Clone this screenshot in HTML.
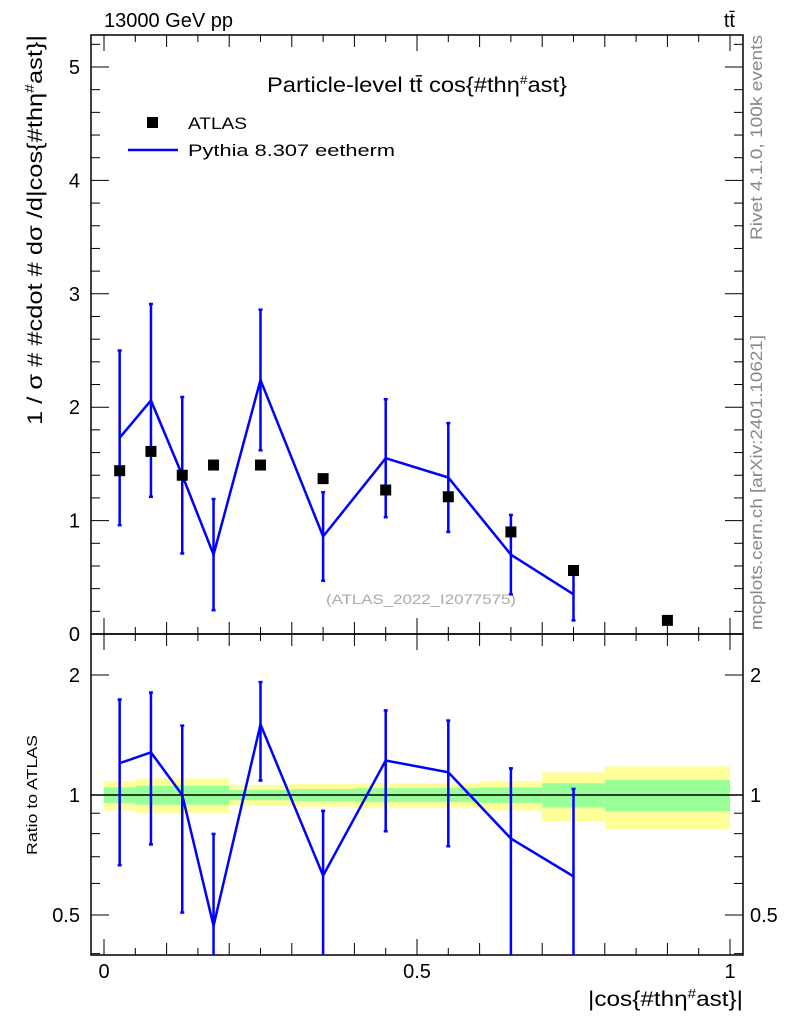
<!DOCTYPE html>
<html><head><meta charset="utf-8"><style>
body{margin:0;background:#fff;}
svg{display:block;font-family:"Liberation Sans",sans-serif;}
</style></head><body>
<svg id="c" width="786" height="1024" xmlns="http://www.w3.org/2000/svg">
<text x="104" y="27" font-size="20">13000 GeV pp</text>
<text x="735" y="27" font-size="20" text-anchor="end">tt̄</text>
<text x="267" y="92" font-size="21" textLength="300" lengthAdjust="spacingAndGlyphs">Particle-level tt̄ cos{#thη<tspan font-size="12" dy="-8">#</tspan><tspan dy="8">ast}</tspan></text>
<rect x="147" y="117" width="11" height="11" fill="#000"/>
<text x="188" y="129" font-size="17" textLength="59" lengthAdjust="spacingAndGlyphs">ATLAS</text>
<line x1="128" y1="150" x2="178" y2="150" stroke="#00f" stroke-width="2.5"/>
<text x="188" y="156" font-size="17" textLength="207" lengthAdjust="spacingAndGlyphs">Pythia 8.307 eetherm</text>
<text x="326" y="604" font-size="14" fill="#aaa" textLength="190" lengthAdjust="spacingAndGlyphs">(ATLAS_2022_I2077575)</text>
<text transform="translate(42,425) rotate(-90)" font-size="21" textLength="390" lengthAdjust="spacingAndGlyphs">1 / σ # #cdot # dσ /d|cos{#thη<tspan font-size="13" dy="-8">#</tspan><tspan dy="8">ast}|</tspan></text>
<text transform="translate(37,855) rotate(-90)" font-size="15" textLength="120" lengthAdjust="spacingAndGlyphs">Ratio to ATLAS</text>
<text x="588" y="1006" font-size="21" textLength="155" lengthAdjust="spacingAndGlyphs">|cos{#thη<tspan font-size="13" dy="-8">#</tspan><tspan dy="8">ast}|</tspan></text>
<text transform="translate(762,240) rotate(-90)" font-size="17" fill="#888" textLength="205" lengthAdjust="spacingAndGlyphs">Rivet 4.1.0,  100k events</text>
<text transform="translate(762,630) rotate(-90)" font-size="17" fill="#888" textLength="295" lengthAdjust="spacingAndGlyphs">mcplots.cern.ch [arXiv:2401.10621]</text>
<g id="g"></g>
</svg>
<script>
const binLo=[0,0.05,0.1,0.15,0.2,0.3,0.4,0.5,0.6,0.7,0.8];
const binHi=[0.05,0.1,0.15,0.2,0.3,0.4,0.5,0.6,0.7,0.8,1.0];
const atlasVals=[1.44,1.61,1.40,1.49,1.49,1.37,1.27,1.21,0.90,0.56,0.12];
const mcVals=[1.73,2.06,1.40,0.70,2.24,0.86,1.55,1.38,0.70,0.35];
const mcErr=[0.77,0.85,0.69,0.49,0.62,0.39,0.52,0.48,0.35,0.23];
const yellowBand=[0.085,0.10,0.10,0.10,0.06,0.065,0.07,0.07,0.085,0.14,0.18];
const greenBand=[0.045,0.055,0.055,0.055,0.03,0.035,0.04,0.04,0.045,0.07,0.09];
const xTicks=[0,0.5,1];
const yTicks=[0,1,2,3,4,5];
const rTicks=[0.5,1,2];

const NS="http://www.w3.org/2000/svg",G=document.getElementById('g');
const L=91,R=743,T=35,MB=634,RB=955;
const X=v=>104+v*626;
const Y=v=>634-v*113.4;
const RY=v=>795-Math.log2(v)*120;
function mk(t,a,name){const e=document.createElementNS(NS,t);for(const k in a)e.setAttribute(k,a[k]);


G.appendChild(e);return e;}
for(let i=0;i<binLo.length;i++){
 mk('rect',{x:X(binLo[i]),y:RY(1+yellowBand[i]),width:X(binHi[i])-X(binLo[i]),height:RY(1-yellowBand[i])-RY(1+yellowBand[i]),fill:'#ffff99'},'yellow-band');
}
for(let i=0;i<binLo.length;i++){
 mk('rect',{x:X(binLo[i]),y:RY(1+greenBand[i]),width:X(binHi[i])-X(binLo[i]),height:RY(1-greenBand[i])-RY(1+greenBand[i]),fill:'#99ff99'},'green-band');
}
mk('line',{x1:L,x2:R,y1:RY(1),y2:RY(1),stroke:'#000','stroke-width':1.5},'ratio-unity-line');
mk('rect',{x:L,y:T,width:R-L,height:MB-T,fill:'none',stroke:'#000','stroke-width':1.5},'main-frame');
mk('rect',{x:L,y:MB,width:R-L,height:RB-MB,fill:'none',stroke:'#000','stroke-width':1.5},'ratio-frame');
for(let k=0;k<=20;k++){const v=k*0.05,x=X(v),len=(k%10==0)?16:(k%2==0?12:7);
 for(const yb of [MB,RB]) mk('line',{x1:x,x2:x,y1:yb,y2:yb-len,stroke:'#000'},'x-tick');
 for(const yt of [T,MB]) mk('line',{x1:x,x2:x,y1:yt,y2:yt+len,stroke:'#000'},'x-tick');
}
xTicks.forEach(v=>{const t=mk('text',{x:X(v),y:978,'font-size':20,'text-anchor':'middle'},'x-tick-label');t.textContent=v;});
for(let k=0;k<=26;k++){const v=k*0.2,y=Y(v),len=(k%5==0)?18:9;
 mk('line',{x1:L,x2:L+len,y1:y,y2:y,stroke:'#000'},'y-tick');
 mk('line',{x1:R,x2:R-len,y1:y,y2:y,stroke:'#000'},'y-tick');}
yTicks.forEach(v=>{const t=mk('text',{x:80,y:Y(v)+7,'font-size':20,'text-anchor':'end'},'y-tick-label');t.textContent=v;});
[0.4,0.5,0.6,0.7,0.8,0.9,1,2].forEach(v=>{const y=RY(v),len=rTicks.includes(v)?18:9;
 mk('line',{x1:L,x2:L+len,y1:y,y2:y,stroke:'#000'},'ratio-tick');
 mk('line',{x1:R,x2:R-len,y1:y,y2:y,stroke:'#000'},'ratio-tick');});
rTicks.forEach(v=>{const y=RY(v)+7;
 let t=mk('text',{x:80,y:y,'font-size':20,'text-anchor':'end'},'ratio-tick-label');t.textContent=v;
 t=mk('text',{x:750,y:y,'font-size':20},'ratio-tick-label-right');t.textContent=v;});
const cx=i=>X((binLo[i]+binHi[i])/2);
let pts=mcVals.map((v,i)=>cx(i)+','+Y(v)).join(' ');
mk('polyline',{points:pts,fill:'none',stroke:'#00f','stroke-width':2.5},'pythia-line');
mcVals.forEach((v,i)=>{const x=cx(i);
 mk('line',{x1:x,x2:x,y1:Y(v+mcErr[i]),y2:Y(Math.max(0,v-mcErr[i])),stroke:'#00f','stroke-width':2.5},'pythia-error-bar');
 mk('line',{x1:x-2,x2:x+2,y1:Y(v+mcErr[i]),y2:Y(v+mcErr[i]),stroke:'#00f','stroke-width':2.5},'pythia-error-cap');
 mk('line',{x1:x-2,x2:x+2,y1:Y(v-mcErr[i]),y2:Y(v-mcErr[i]),stroke:'#00f','stroke-width':2.5},'pythia-error-cap');});
atlasVals.forEach((v,i)=>{mk('rect',{x:cx(i)-5.5,y:Y(v)-5.5,width:11,height:11,fill:'#000'},'atlas-point');});
const cl=v=>Math.min(RB,Math.max(MB,v));
pts=mcVals.map((v,i)=>cx(i)+','+cl(RY(v/atlasVals[i]))).join(' ');
mk('polyline',{points:pts,fill:'none',stroke:'#00f','stroke-width':2.5},'ratio-line');
mcVals.forEach((v,i)=>{const x=cx(i),r=v/atlasVals[i],e=mcErr[i]/atlasVals[i];
 const up=cl(RY(r+e)),dn=(r-e)>0?cl(RY(r-e)):RB;
 mk('line',{x1:x,x2:x,y1:up,y2:dn,stroke:'#00f','stroke-width':2.5},'ratio-error-bar');
 mk('line',{x1:x-2,x2:x+2,y1:up,y2:up,stroke:'#00f','stroke-width':2.5},'ratio-error-cap');
 if(dn<RB) mk('line',{x1:x-2,x2:x+2,y1:dn,y2:dn,stroke:'#00f','stroke-width':2.5},'ratio-error-cap');});
</script>
</body></html>
